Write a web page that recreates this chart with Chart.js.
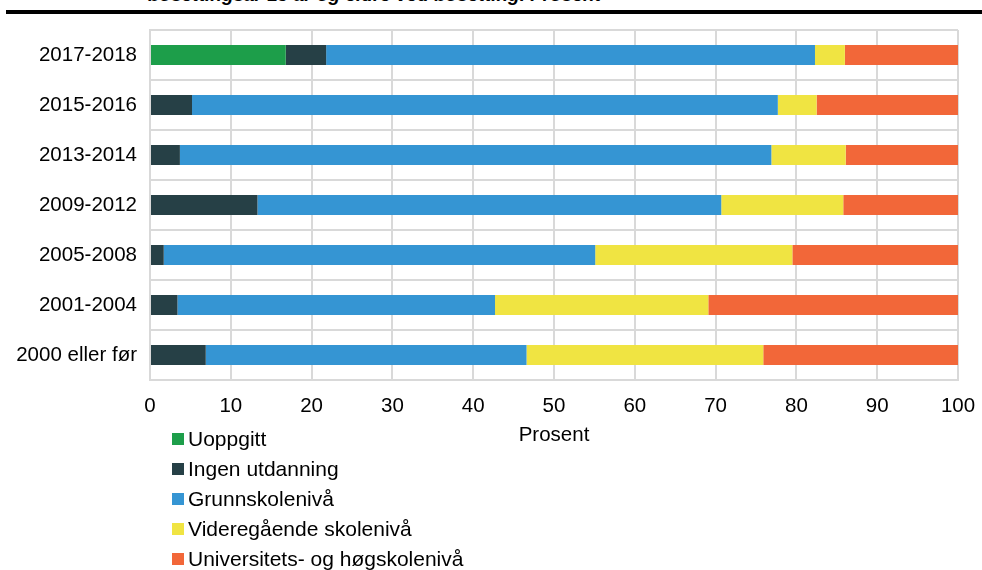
<!DOCTYPE html>
<html>
<head>
<meta charset="utf-8">
<script src="https://cdn.jsdelivr.net/npm/chart.js@4"></script>
<style>
  html, body { margin: 0; padding: 0; background: #fff; }
  body { width: 982px; height: 570px; position: relative; overflow: hidden; font-family: "Liberation Sans", Arial, sans-serif; }
  #title { position: absolute; left: 148px; top: -15.5px; line-height: 20px; font-size: 19px; font-weight: bold; font-style: italic; white-space: nowrap; color: #000; }
  #rule { position: absolute; left: 6px; right: 0; top: 10px; height: 4px; background: #000; }
  #chart { position: absolute; left: 0; top: 0; }
</style>
</head>
<body>
<div id="title">bosettingsår 15 år og eldre ved bosetting. Prosent</div>
<div id="rule"></div>
<canvas id="chart" width="982" height="570"></canvas>
<script>
const periods = ['2017-2018', '2015-2016', '2013-2014', '2009-2012', '2005-2008', '2001-2004', '2000 eller før'];
const uoppgitt = [16.8, 0, 0, 0, 0, 0, 0];
const ingenUtdanning = [5.0, 5.2, 3.7, 13.3, 1.7, 3.4, 6.9];
const grunnskole = [60.5, 72.5, 73.2, 57.4, 53.4, 39.3, 39.7];
const videregaende = [3.7, 4.8, 9.2, 15.1, 24.4, 26.4, 29.3];
const universitet = [14.0, 17.5, 13.9, 14.2, 20.5, 30.9, 24.1];
const xTicks = [0, 10, 20, 30, 40, 50, 60, 70, 80, 90, 100];

const font = '"Liberation Sans", Arial, sans-serif';
const gridColor = '#d9d9d9';

// legend as a vertical list under the axis title
const listLegend = {
    id: 'listLegend',
    afterDraw(chart) {
        const ctx = chart.ctx;
        ctx.save();
        ctx.font = '21px ' + font;
        ctx.textBaseline = 'middle';
        ctx.textAlign = 'left';
        chart.data.datasets.forEach(function(ds, i) {
            const y = 439 + i * 30;
            ctx.fillStyle = ds.backgroundColor;
            ctx.fillRect(172, y - 6, 12, 12);
            ctx.fillStyle = '#000';
            ctx.fillText(ds.label, 188, y + 1);
        });
        ctx.restore();
    }
};

const data = {
    labels: periods,
    datasets: [
        { label: 'Uoppgitt', data: uoppgitt, backgroundColor: '#1d9e4a' },
        { label: 'Ingen utdanning', data: ingenUtdanning, backgroundColor: '#264046' },
        { label: 'Grunnskolenivå', data: grunnskole, backgroundColor: '#3595d3' },
        { label: 'Videregående skolenivå', data: videregaende, backgroundColor: '#f0e442' },
        { label: 'Universitets- og høgskolenivå', data: universitet, backgroundColor: '#f26739' }
    ]
};

const config = {
    type: 'bar',
    data: data,
    options: {
        indexAxis: 'y',
        responsive: false,
        animation: false,
        categoryPercentage: 0.8,
        barPercentage: 0.5,
        layout: { padding: { top: 30, right: 24, bottom: 120, left: 0 } },
        plugins: {
            legend: { display: false },
            title: { display: false },
            tooltip: { enabled: false }
        },
        scales: {
            x: {
                stacked: true,
                min: 0,
                max: 100,
                afterFit: function(scale) {
                    scale.height = 70;
                    scale.paddingLeft = 0;
                    scale.paddingRight = 0;
                },
                afterBuildTicks: function(scale) {
                    scale.ticks = xTicks.map(function(v) { return { value: v }; });
                },
                grid: { color: gridColor, lineWidth: 2, drawTicks: false },
                border: { color: gridColor, width: 2 },
                ticks: { color: '#000', padding: 14, font: { family: font, size: 20.5 } },
                title: {
                    display: true,
                    text: 'Prosent',
                    color: '#000',
                    padding: { top: 4, bottom: 2 },
                    font: { family: font, size: 20.5 }
                }
            },
            y: {
                stacked: true,
                afterFit: function(scale) { scale.width = 150; },
                grid: { color: gridColor, lineWidth: 2, drawTicks: false },
                border: { color: gridColor, width: 2 },
                ticks: { color: '#000', padding: 13, font: { family: font, size: 20.5 } }
            }
        }
    },
    plugins: [listLegend]
};

const resultsChart = new Chart(document.getElementById('chart').getContext('2d'), config);
</script>
</body>
</html>
